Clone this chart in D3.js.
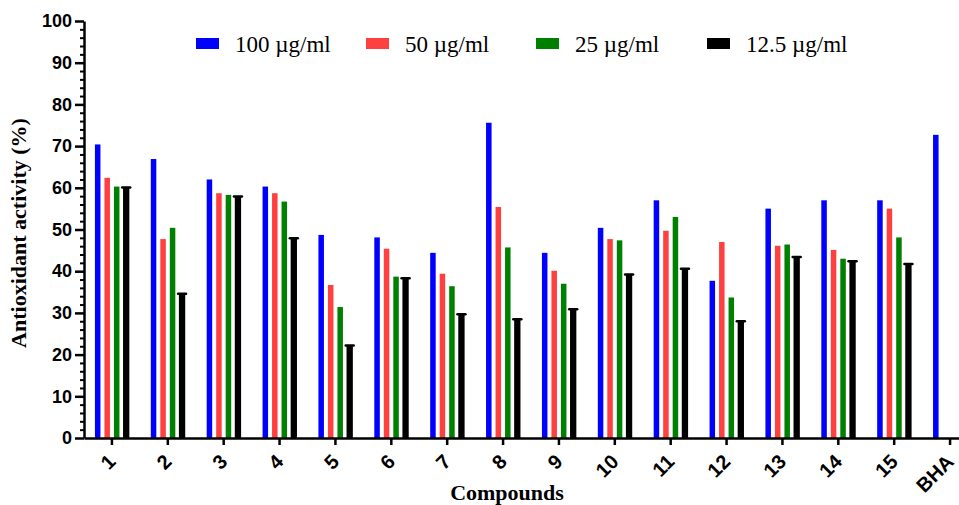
<!DOCTYPE html>
<html>
<head>
<meta charset="utf-8">
<script src="https://cdn.jsdelivr.net/npm/d3@7"></script>
<style>
  body { margin: 0; background: #fff; }
  svg { display: block; }
</style>
</head>
<body>
<div id="chart"></div>
<script>
const width = 959;
const height = 505;

// Data
const compounds = ["1", "2", "3", "4", "5", "6", "7", "8", "9", "10", "11", "12", "13", "14", "15", "BHA"];
const seriesNames = ["100 µg/ml", "50 µg/ml", "25 µg/ml", "12.5 µg/ml"];
const colors = ["#0000ff", "#ff4040", "#008000", "#000000"];
const yTicks = [0, 10, 20, 30, 40, 50, 60, 70, 80, 90, 100];

const v100 = [70.4, 66.9, 62.0, 60.3, 48.7, 48.1, 44.4, 75.6, 44.4, 50.4, 57.0, 37.7, 55.0, 57.0, 57.0, 72.7];
const v50  = [62.4, 47.7, 58.7, 58.7, 36.7, 45.4, 39.4, 55.4, 40.1, 47.7, 49.7, 47.0, 46.1, 45.1, 55.0, null];
const v25  = [60.3, 50.4, 58.3, 56.7, 31.4, 38.7, 36.4, 45.7, 37.0, 47.4, 53.0, 33.7, 46.4, 43.0, 48.1, null];
const v12  = [60.1, 34.6, 57.9, 47.9, 22.2, 38.3, 29.7, 28.5, 30.9, 39.2, 40.6, 28.0, 43.4, 42.4, 41.7, null];
const seriesValues = [v100, v50, v25, v12];

const svg = d3.select("#chart")
  .append("svg")
    .attr("width", width)
    .attr("height", height);

const x0 = d3.scaleBand()
  .domain(compounds)
  .range([84, 978]);

const x1 = d3.scaleBand()
  .domain(seriesNames)
  .range([-19, 19])
  .paddingInner(0.42)
  .paddingOuter(0.21);

const y = d3.scaleLinear()
  .domain([0, 100])
  .range([438, 21]);

//Bars
seriesNames.forEach((s, si) => {
  const cells = compounds
    .map((c, ci) => ({compound: c, value: seriesValues[si][ci]}))
    .filter(d => d.value != null);

  const cx = d => x0(d.compound) + x0.bandwidth() / 2 + x1(s);

  svg.append("g")
    .selectAll("rect")
    .data(cells)
    .enter()
    .append("rect")
      .attr("x", d => cx(d) - (si === 3 ? 0.4 : 0))
      .attr("y", d => y(d.value))
      .attr("width", x1.bandwidth() + (si === 3 ? 0.8 : 0))
      .attr("height", d => y(0) - y(d.value))
      .attr("fill", colors[si]);

  // error caps on the 12.5 series
  if (si === 3) {
    svg.append("g")
      .selectAll("line")
      .data(cells)
      .enter()
      .append("line")
        .attr("x1", d => cx(d) + x1.bandwidth() / 2 - 4)
        .attr("x2", d => cx(d) + x1.bandwidth() / 2 + 4)
        .attr("y1", d => y(d.value))
        .attr("y2", d => y(d.value))
        .attr("stroke", "#000")
        .attr("stroke-width", 2.5)
        .attr("stroke-linecap", "round");
  }
});

//Y axis
const minorTicks = d3.range(0, 101, 2).filter(v => v % 10 !== 0);
svg.append("g")
  .attr("transform", "translate(84,0)")
  .call(d3.axisLeft(y).tickValues(minorTicks).tickSize(4).tickFormat(""))
  .call(g => g.select(".domain").remove())
  .call(g => g.selectAll("line").attr("stroke-width", 2));

const yAxis = svg.append("g")
  .attr("transform", "translate(84,0)")
  .call(d3.axisLeft(y).tickValues(yTicks).tickSize(9).tickSizeOuter(0).tickPadding(3));
yAxis.select(".domain").attr("stroke-width", 2.5);
yAxis.selectAll("line").attr("stroke-width", 2.5);
yAxis.selectAll("text")
  .style("font-family", "Liberation Sans, Arial, sans-serif")
  .style("font-weight", "bold")
  .style("font-size", "18px")
  .attr("fill", "#000");

//X axis
const xAxis = svg.append("g")
  .attr("transform", `translate(0,${y(0)})`)
  .call(d3.axisBottom(x0).tickSize(7).tickSizeOuter(0));
xAxis.select(".domain").attr("stroke-width", 2.5);
xAxis.selectAll("line").attr("stroke-width", 2.5);
xAxis.selectAll("text")
  .style("font-family", "Liberation Sans, Arial, sans-serif")
  .style("font-weight", "bold")
  .style("font-size", "20px")
  .attr("fill", "#000")
  .attr("text-anchor", "end")
  .attr("dy", null)
  .attr("y", 0)
  .attr("transform", "translate(5,25) rotate(-45)");

//Axis titles
svg.append("text")
  .attr("transform", "translate(26,233) rotate(-90)")
  .attr("text-anchor", "middle")
  .style("font-family", "Liberation Serif, Times New Roman, serif")
  .style("font-weight", "bold")
  .style("font-size", "22px")
  .text("Antioxidant activity (%)");

svg.append("text")
  .attr("x", 507)
  .attr("y", 500)
  .attr("text-anchor", "middle")
  .style("font-family", "Liberation Serif, Times New Roman, serif")
  .style("font-weight", "bold")
  .style("font-size", "22px")
  .text("Compounds");

//Legend
const legendX = [196, 366, 536, 707];
const legend = svg.append("g");
seriesNames.forEach((s, i) => {
  const row = legend.append("g")
    .attr("transform", `translate(${legendX[i]},38)`);
  row.append("rect")
    .attr("width", 23)
    .attr("height", 11)
    .attr("fill", colors[i]);
  row.append("text")
    .attr("x", 39)
    .attr("y", 14)
    .style("font-family", "Liberation Serif, Times New Roman, serif")
    .style("font-size", "23px")
    .text(s);
});
</script>
</body>
</html>
